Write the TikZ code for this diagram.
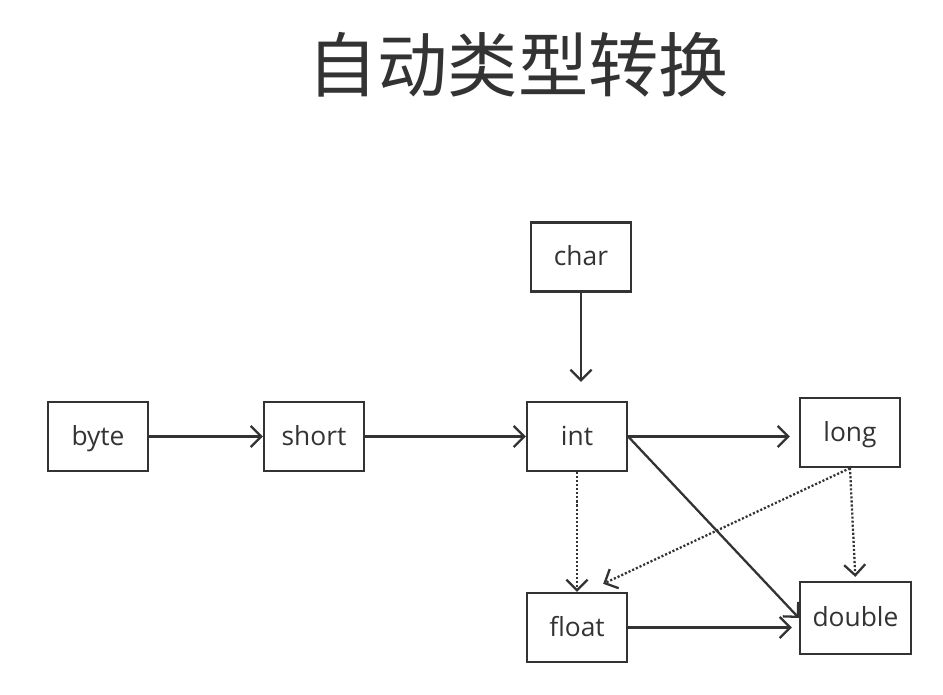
\documentclass[tikz,border=0pt]{standalone}
\usepackage{fontspec}
\setmainfont{Open Sans}
\newfontfamily\cjk{Noto Sans CJK SC}
\usetikzlibrary{arrows.meta}
\definecolor{ink}{HTML}{333333}

\begin{document}
\begin{tikzpicture}[x = 0.02cm, y = -0.02cm, color = ink,
	box/.style = {draw, line width = 1.3pt, minimum width = 2cm, minimum height = 1.38cm,
		inner sep = 0pt, text height = 2.2ex, text depth = 0.3ex, font = \fontsize{15}{18}\selectfont},
	conv/.style = {-{Straight Barb[length = 6pt, width = 12pt]}, line width = 1.3pt},
	maybe/.style = {conv, dash pattern = on 1.2pt off 1.1pt},
]
\useasboundingbox (0,0) rectangle (943,695);

\node (title) at (518,65) {\cjk\fontsize{40}{48}\selectfont 自动类型转换};

\foreach \name/\x/\y in {byte/98/436.5, short/314/436.5, int/577/436.5, char/581/257, long/850/432.5, float/577/627.5}
	{
		\node [box] (\name) at (\x,\y) {\name};
	}
\node [box, minimum width = 2.22cm, minimum height = 1.44cm] (double) at (855.5,618) {double};

% widening
\draw [conv] (byte) -- (short);
\draw [conv] (short) -- (int);
\draw [conv, shorten > = 0.38cm] (char) -- (char |- int.north);
\draw [conv, shorten > = 0.18cm] (int.east) -- (int.east -| long.west);
\draw [conv] (int.east) -- (double.west);
\draw [conv, shorten > = 0.14cm] (float.east) -- (float.east -| double.west);

% may lose precision
\draw [maybe] (int) -- (float);
\draw [maybe, shorten > = 0.08cm] (long.south) -- (double.north);
\draw [maybe, shorten > = 0.38cm] (long.south) -- ([xshift = 0.18cm]float.north);

\end{tikzpicture}
\end{document}
